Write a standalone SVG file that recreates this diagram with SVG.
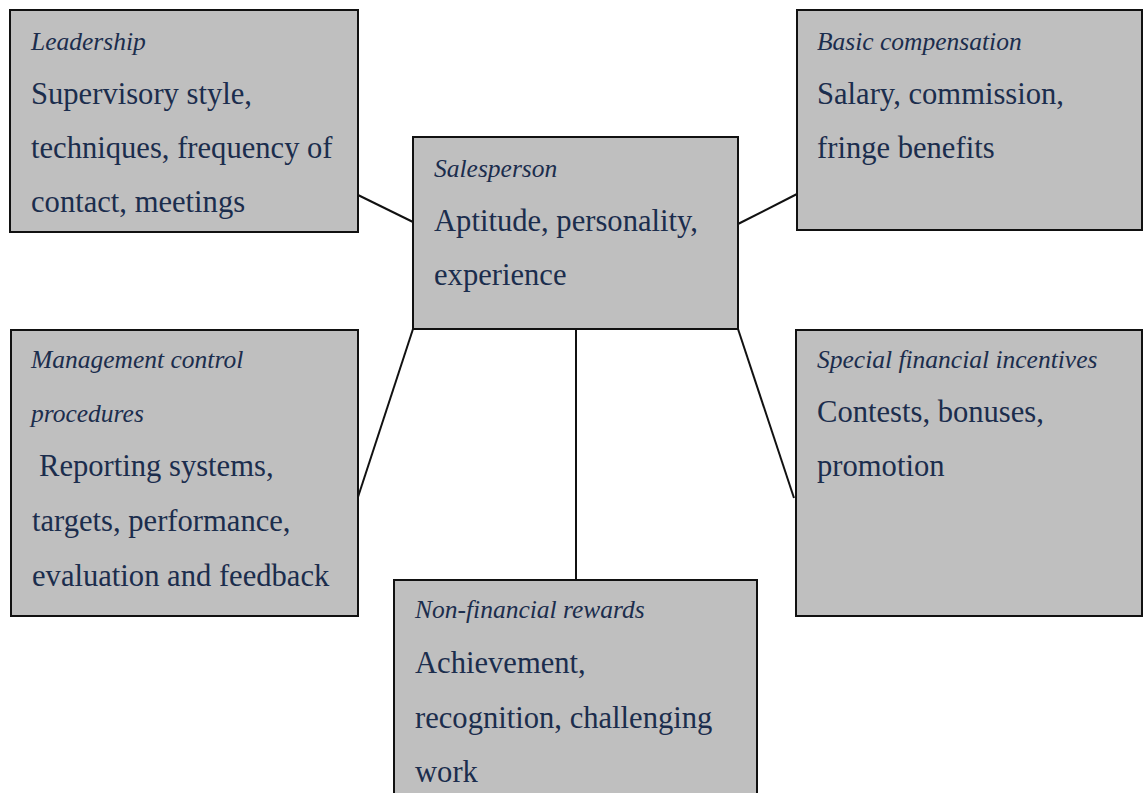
<svg xmlns="http://www.w3.org/2000/svg" width="1143" height="793" viewBox="0 0 1143 793">
<style>
.box{fill:#bfbfbf;stroke:#111;stroke-width:2}
.h{font-family:"Liberation Serif",serif;font-style:italic;font-size:25.5px;fill:#1b2d4d}
.t{font-family:"Liberation Serif",serif;font-size:30.6px;fill:#1b2d4d}
.c{stroke:#111;stroke-width:2;fill:none}
</style>
<rect width="1143" height="793" fill="#fff"/>
<g id="connectors">
<line class="c" x1="358" y1="195" x2="413" y2="222"/>
<line class="c" x1="738" y1="224" x2="797" y2="194"/>
<line class="c" x1="413" y1="329" x2="358" y2="497"/>
<line class="c" x1="738" y1="329" x2="794" y2="498"/>
<line class="c" x1="576" y1="329" x2="576" y2="580"/>
</g>
<g id="leadership">
<rect class="box" x="10" y="10" width="348" height="222"/>
<text class="h" x="31" y="50">Leadership</text>
<text class="t" x="31" y="104">Supervisory style,</text>
<text class="t" x="31" y="158">techniques, frequency of</text>
<text class="t" x="31" y="212">contact, meetings</text>
</g>
<g id="basic-compensation">
<rect class="box" x="797" y="10" width="345" height="220"/>
<text class="h" x="817" y="50">Basic compensation</text>
<text class="t" x="817" y="104">Salary, commission,</text>
<text class="t" x="817" y="158">fringe benefits</text>
</g>
<g id="salesperson">
<rect class="box" x="413" y="137" width="325" height="192"/>
<text class="h" x="434" y="177">Salesperson</text>
<text class="t" x="434" y="231">Aptitude, personality,</text>
<text class="t" x="434" y="285">experience</text>
</g>
<g id="management-control">
<rect class="box" x="11" y="330" width="347" height="286"/>
<text class="h" x="31" y="368">Management control</text>
<text class="h" x="31" y="422">procedures</text>
<text class="t" x="39" y="476">Reporting systems,</text>
<text class="t" x="32" y="531">targets, performance,</text>
<text class="t" x="32" y="586">evaluation and feedback</text>
</g>
<g id="special-incentives">
<rect class="box" x="796" y="330" width="346" height="286"/>
<text class="h" x="817" y="368">Special financial incentives</text>
<text class="t" x="817" y="422">Contests, bonuses,</text>
<text class="t" x="817" y="476">promotion</text>
</g>
<g id="non-financial">
<rect class="box" x="394" y="580" width="363" height="230"/>
<text class="h" x="415" y="618">Non-financial rewards</text>
<text class="t" x="415" y="673">Achievement,</text>
<text class="t" x="415" y="728">recognition, challenging</text>
<text class="t" x="415" y="782">work</text>
</g>
</svg>
